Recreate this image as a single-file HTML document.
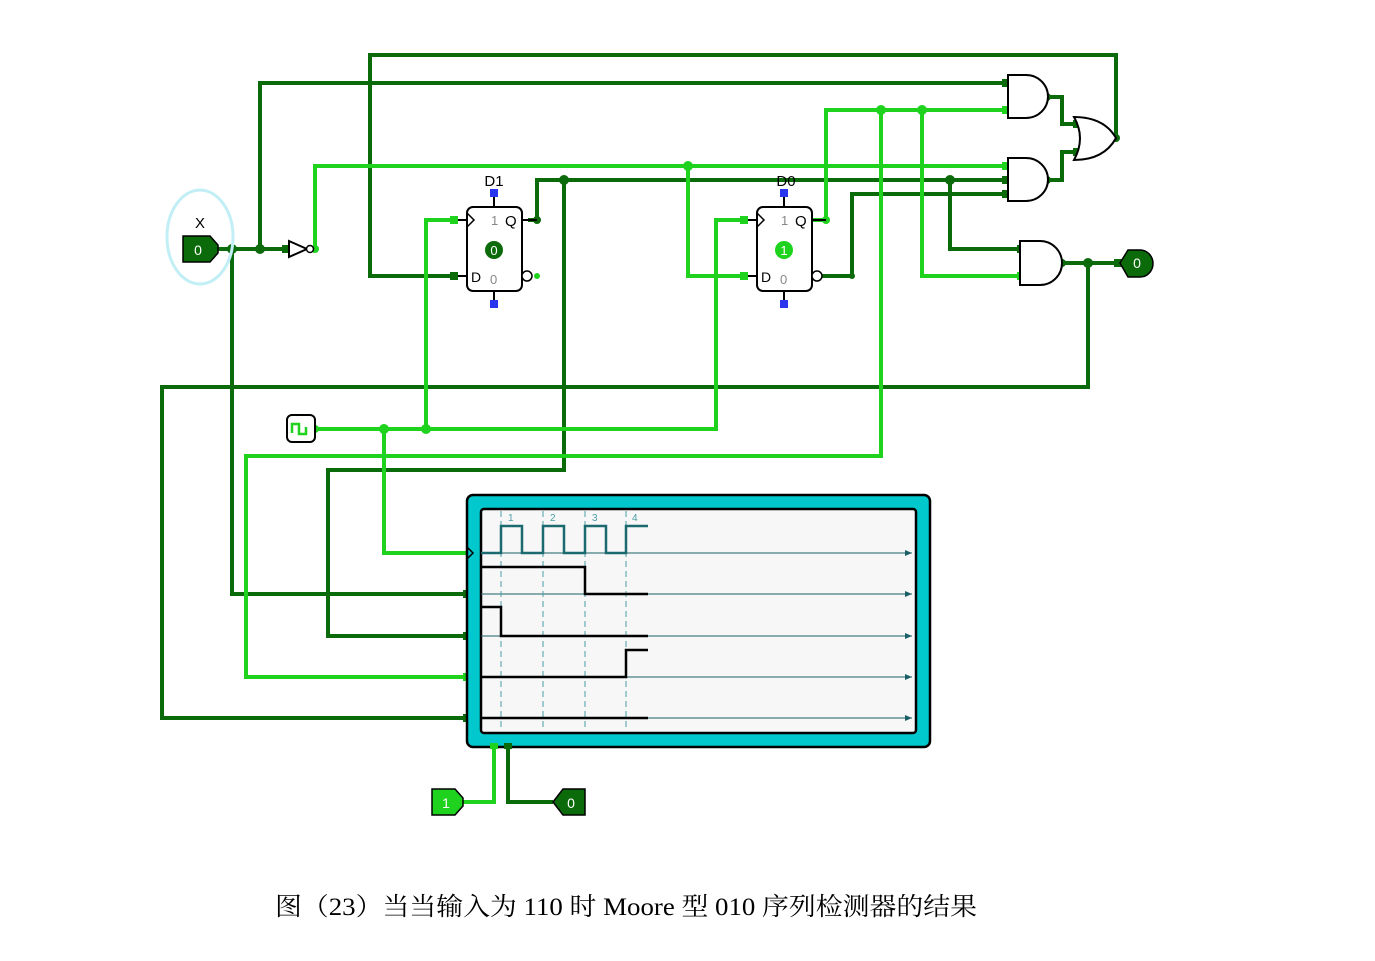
<!DOCTYPE html>
<html><head><meta charset="utf-8"><style>
html,body{margin:0;padding:0;background:#fff;}
svg{display:block;}
</style></head><body>
<svg width="1375" height="961" viewBox="0 0 1375 961" xmlns="http://www.w3.org/2000/svg" font-family="Liberation Sans, sans-serif">
<defs>
<marker id="ar" markerWidth="8" markerHeight="8" refX="7" refY="4" orient="auto"><path d="M0,1 L7,4 L0,7 z" fill="#1a5f66"/></marker>
</defs>
<g fill="none" stroke-width="4" stroke-linejoin="miter">
<!-- dark wires -->
<g stroke="#0b6b0b">
<polyline points="1116,138 1116,55 370,55 370,276 455,276"/>
<polyline points="218,249 288,249"/>
<polyline points="260,249 260,83 1005,83"/>
<polyline points="232,249 232,594 467,594"/>
<polyline points="528,220 537,220 537,180 1005,180"/>
<polyline points="564,180 564,470 328,470 328,636 467,636"/>
<polyline points="950,180 950,249 1020,249"/>
<polyline points="822,276 852,276 852,194 1005,194"/>
<polyline points="1062,263 1120,263"/>
<polyline points="1088,263 1088,387 162,387 162,718 467,718"/>
<polyline points="1047,97 1062,97 1062,124 1078,124"/>
<polyline points="1047,180 1062,180 1062,152 1078,152"/>
<polyline points="508,746 508,802 553,802"/>
</g>
<!-- light wires -->
<g stroke="#1ed21e">
<polyline points="315,249 315,166 1005,166"/>
<polyline points="688,166 688,276 745,276"/>
<polyline points="812,220 826,220 826,110 1005,110"/>
<polyline points="881,110 881,456 246,456 246,677 467,677"/>
<polyline points="922,110 922,276 1020,276"/>
<polyline points="315,429 716,429 716,220 745,220"/>
<polyline points="384,429 384,553 467,553"/>
<polyline points="426,429 426,220 455,220"/>
<polyline points="463,802 494,802 494,746"/>
</g>
</g>
<!-- junction dots -->
<g fill="#0b6b0b">
<circle cx="232" cy="249" r="5"/><circle cx="260" cy="249" r="5"/><circle cx="564" cy="180" r="5"/>
<circle cx="950" cy="180" r="5"/><circle cx="1088" cy="263" r="5"/><circle cx="537" cy="220" r="4"/>
<circle cx="1116" cy="138" r="4"/><circle cx="1047" cy="97" r="4"/><circle cx="1047" cy="180" r="4"/><circle cx="1062" cy="263" r="4"/>
<circle cx="852" cy="276" r="3"/><circle cx="508" cy="746" r="4"/>
</g>
<g fill="#1ed21e">
<circle cx="688" cy="166" r="5"/><circle cx="881" cy="110" r="5"/><circle cx="922" cy="110" r="5"/>
<circle cx="384" cy="429" r="5"/><circle cx="426" cy="429" r="5"/><circle cx="826" cy="220" r="4"/>
<circle cx="315" cy="249" r="4"/><circle cx="537" cy="276" r="3"/><circle cx="494" cy="746" r="4"/><circle cx="315" cy="429" r="4"/>
</g>
<!-- pin squares -->
<g fill="#0b6b0b">
<rect x="1002" y="79" width="8" height="8"/><rect x="1002" y="176" width="8" height="8"/><rect x="1002" y="190" width="8" height="8"/>
<rect x="1017" y="245" width="8" height="8"/><rect x="1073" y="120" width="8" height="8"/><rect x="1073" y="148" width="8" height="8"/>
<rect x="450" y="272" width="8" height="8"/><rect x="282" y="245" width="8" height="8"/><rect x="1114" y="259" width="8" height="8"/>
<rect x="463" y="590" width="8" height="8"/><rect x="463" y="632" width="8" height="8"/><rect x="463" y="714" width="8" height="8"/>
</g>
<g fill="#1ed21e">
<rect x="1002" y="106" width="8" height="8"/><rect x="1002" y="162" width="8" height="8"/><rect x="1017" y="272" width="8" height="8"/>
<rect x="450" y="216" width="8" height="8"/><rect x="740" y="216" width="8" height="8"/><rect x="740" y="272" width="8" height="8"/>
<rect x="463" y="673" width="8" height="8"/>
</g>
<!-- X input -->
<ellipse cx="200" cy="237" rx="33" ry="47" fill="none" stroke="#c2eef5" stroke-width="3"/>
<text x="200" y="228" font-size="15" text-anchor="middle">X</text>
<path d="M183,236 L210,236 L218,245 L218,253 L210,262 L183,262 z" fill="#0b6b0b" stroke="#000" stroke-width="1.5"/>
<text x="198" y="255" font-size="14" fill="#fff" text-anchor="middle">0</text>
<!-- inverter -->
<path d="M289,241 L307,249 L289,257 z" fill="#fff" stroke="#000" stroke-width="2"/>
<circle cx="310" cy="249" r="3.5" fill="#fff" stroke="#000" stroke-width="1.5"/>
<!-- D1 -->
<g>
<line x1="494" y1="193" x2="494" y2="207" stroke="#000" stroke-width="2"/><line x1="494" y1="291" x2="494" y2="304" stroke="#000" stroke-width="2"/>
<rect x="490" y="189" width="8" height="8" fill="#2a35ee"/><rect x="490" y="300" width="8" height="8" fill="#2a35ee"/>
<rect x="467" y="207" width="55" height="84" rx="6" fill="#fff" stroke="#000" stroke-width="2"/>
<path d="M467,213 L474,220 L467,227" fill="none" stroke="#000" stroke-width="1.5"/>
<line x1="458" y1="220" x2="467" y2="220" stroke="#000" stroke-width="2"/><line x1="458" y1="276" x2="467" y2="276" stroke="#000" stroke-width="2"/>
<line x1="522" y1="220" x2="537" y2="220" stroke="#000" stroke-width="2"/>
<circle cx="527" cy="276" r="5" fill="#fff" stroke="#000" stroke-width="1.5"/>
<text x="494" y="186" font-size="15" text-anchor="middle">D1</text>
<text x="491" y="225" font-size="13" fill="#888">1</text><text x="505" y="226" font-size="15">Q</text>
<text x="471" y="282" font-size="14">D</text><text x="490" y="284" font-size="13" fill="#888">0</text>
<circle cx="494" cy="250" r="9" fill="#0b6b0b"/><text x="494" y="255" font-size="13" fill="#fff" text-anchor="middle">0</text>
</g>
<!-- D0 -->
<g>
<line x1="784" y1="193" x2="784" y2="207" stroke="#000" stroke-width="2"/><line x1="784" y1="291" x2="784" y2="304" stroke="#000" stroke-width="2"/>
<rect x="780" y="189" width="8" height="8" fill="#2a35ee"/><rect x="780" y="300" width="8" height="8" fill="#2a35ee"/>
<rect x="757" y="207" width="55" height="84" rx="6" fill="#fff" stroke="#000" stroke-width="2"/>
<path d="M757,213 L764,220 L757,227" fill="none" stroke="#000" stroke-width="1.5"/>
<line x1="748" y1="220" x2="757" y2="220" stroke="#000" stroke-width="2"/><line x1="748" y1="276" x2="757" y2="276" stroke="#000" stroke-width="2"/>
<line x1="812" y1="220" x2="826" y2="220" stroke="#000" stroke-width="2"/>
<circle cx="817" cy="276" r="5" fill="#fff" stroke="#000" stroke-width="1.5"/>
<text x="786" y="186" font-size="15" text-anchor="middle">D0</text>
<text x="781" y="225" font-size="13" fill="#888">1</text><text x="795" y="226" font-size="15">Q</text>
<text x="761" y="282" font-size="14">D</text><text x="780" y="284" font-size="13" fill="#888">0</text>
<circle cx="784" cy="250" r="9" fill="#1ed21e"/><text x="784" y="255" font-size="13" fill="#fff" text-anchor="middle">1</text>
</g>
<!-- gates -->
<g fill="#fff" stroke="#000" stroke-width="2">
<path d="M1008,75 L1026,75 A22,21.5 0 0 1 1026,118 L1008,118 z"/>
<path d="M1008,158 L1026,158 A22,21.5 0 0 1 1026,201 L1008,201 z"/>
<path d="M1020,241 L1040,241 A22,22 0 0 1 1040,285 L1020,285 z"/>
<path d="M1074,117 Q1104,117 1116,138 Q1104,160 1074,160 Q1086,138 1074,117 z"/>
</g>
<!-- output 0 -->
<path d="M1120,263 L1128,250 L1140,250 A13,13.5 0 0 1 1140,277 L1128,277 z" fill="#0b6b0b" stroke="#000" stroke-width="1.5"/>
<text x="1137" y="268" font-size="14" fill="#fff" text-anchor="middle">0</text>
<!-- clock -->
<rect x="287" y="415" width="28" height="27" rx="5" fill="#fff" stroke="#000" stroke-width="2"/>
<polyline points="292,433 292,424 299,424 299,434 306,434 306,427" fill="none" stroke="#1ed21e" stroke-width="2.5"/>
<!-- timing diagram -->
<rect x="467" y="495" width="463" height="252" rx="6" fill="#00c8cc" stroke="#000" stroke-width="2.5"/>
<rect x="481" y="509" width="435" height="224" rx="3" fill="#f7f7f7" stroke="#000" stroke-width="2.5"/>
<path d="M467,547 L473,553 L467,559" fill="none" stroke="#000" stroke-width="1.5"/>
<g stroke="#1a5f66" stroke-width="1" marker-end="url(#ar)">
<line x1="481" y1="553" x2="912" y2="553"/><line x1="481" y1="594" x2="912" y2="594"/>
<line x1="481" y1="636" x2="912" y2="636"/><line x1="481" y1="677" x2="912" y2="677"/>
<line x1="481" y1="718" x2="912" y2="718"/>
</g>
<g stroke="#4a9ea6" stroke-width="1" stroke-dasharray="6,4">
<line x1="501" y1="511" x2="501" y2="731"/><line x1="543" y1="511" x2="543" y2="731"/>
<line x1="585" y1="511" x2="585" y2="731"/><line x1="626" y1="511" x2="626" y2="731"/>
</g>
<g font-size="10" fill="#4a9ea6"><text x="508" y="521">1</text><text x="550" y="521">2</text><text x="592" y="521">3</text><text x="632" y="521">4</text></g>
<polyline points="481,553 501,553 501,526 522,526 522,553 543,553 543,526 564,526 564,553 585,553 585,526 606,526 606,553 626,553 626,526 648,526" fill="none" stroke="#1a6a70" stroke-width="2.5"/>
<g fill="none" stroke="#000" stroke-width="2.5">
<polyline points="481,567 585,567 585,594 648,594"/>
<polyline points="481,607 501,607 501,636 648,636"/>
<polyline points="481,677 626,677 626,650 648,650"/>
<polyline points="481,718 648,718"/>
</g>
<rect x="490" y="743" width="8" height="6" fill="#1ed21e"/><rect x="504" y="743" width="8" height="6" fill="#0b6b0b"/>
<!-- bottom inputs -->
<path d="M432,789 L455,789 L463,798 L463,806 L455,815 L432,815 z" fill="#1ed21e" stroke="#000" stroke-width="1.5"/>
<text x="446" y="808" font-size="14" fill="#fff" text-anchor="middle">1</text>
<path d="M553,802 L563,789 L585,789 L585,815 L563,815 z" fill="#0b6b0b" stroke="#000" stroke-width="1.5"/>
<text x="571" y="808" font-size="14" fill="#fff" text-anchor="middle">0</text>
<!-- caption -->
<text x="275" y="915" font-size="25" font-family="Liberation Serif, Noto Serif CJK SC, serif" textLength="702" lengthAdjust="spacingAndGlyphs">图（23）当当输入为 110 时 Moore 型 010 序列检测器的结果</text>
</svg>
</body></html>
